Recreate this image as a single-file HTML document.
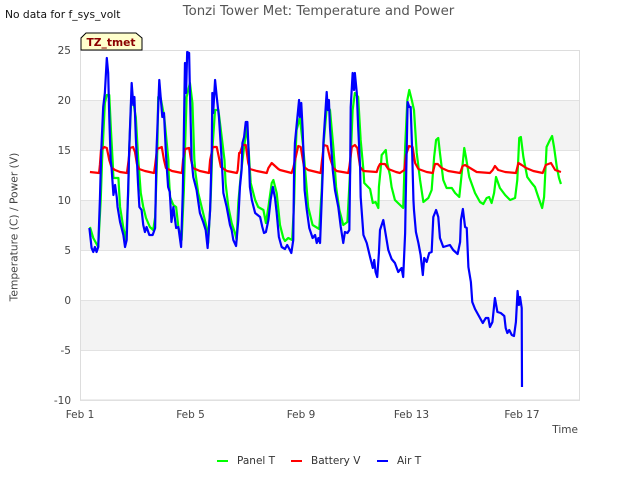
<!DOCTYPE html>
<html lang="en">
<head>
<meta charset="utf-8">
<title>Tonzi Tower Met: Temperature and Power</title>
<style>
html,body{margin:0;padding:0;background:#fff;}
svg{display:block;font-family:"DejaVu Sans","Liberation Sans",sans-serif;}
</style>
</head>
<body>
<svg id="chart" xmlns="http://www.w3.org/2000/svg" width="640" height="480" viewBox="0 0 640 480">
  <rect x="0" y="0" width="640" height="480" fill="#ffffff"/>
  <g id="bands"></g>
  <g id="grid"></g>
  <rect x="80.5" y="50.5" width="499" height="349.5" fill="none" stroke="#dddddd" stroke-width="1"/>
  <g id="yticks"></g>
  <g id="xticks"></g>
  <g id="series"></g>
  <text x="318.5" y="15" text-anchor="middle" font-size="13.3" fill="#555555">Tonzi Tower Met: Temperature and Power</text>
  <text x="5" y="18" font-size="10.7" fill="#111111">No data for f_sys_volt</text>
  <text transform="translate(17.5,227) rotate(-90)" text-anchor="middle" font-size="10.7" fill="#444444">Temperature (C) / Power (V)</text>
  <text x="578" y="433" text-anchor="end" font-size="10.5" fill="#444444">Time</text>
  <g>
    <path d="M81,50 L81,38 L86,33 L136,33 L142,38 L142,50 Z" fill="#ffffcc" stroke="#000000" stroke-width="1"/>
    <text x="111" y="46" text-anchor="middle" font-size="10.7" font-weight="bold" fill="#8b0000">TZ_tmet</text>
  </g>
  <g>
    <g>
      <rect x="217" y="460" width="11" height="2" fill="#00ff00"/>
      <text x="237" y="464" font-size="10.5" fill="#333333">Panel T</text>
    </g>
    <g>
      <rect x="291" y="460" width="11" height="2" fill="#ff0000"/>
      <text x="311" y="464" font-size="10.5" fill="#333333">Battery V</text>
    </g>
    <g>
      <rect x="377" y="460" width="11" height="2" fill="#0000ff"/>
      <text x="397" y="464" font-size="10.5" fill="#333333">Air T</text>
    </g>
  </g>
</svg>
<script>
const yTickValues = [25, 20, 15, 10, 5, 0, -5, -10];
const xTickDays = [0, 4, 8, 12, 16];
const xTickLabels = ["Feb 1", "Feb 5", "Feb 9", "Feb 13", "Feb 17"];
const shadedBands = [[15, 20], [5, 10], [-5, 0]];

const panelDays = [.36,.48,.58,.66,.75,.80,.83,.90,.97,1.06,1.12,1.18,1.21,1.39,1.45,1.57,1.67,1.75,1.78,1.85,1.93,2.02,2.11,2.13,2.20,2.29,2.39,2.53,2.65,2.72,2.80,2.83,2.92,3.05,3.20,3.21,3.26,3.38,3.48,3.56,3.68,3.76,3.80,3.86,3.98,4.07,4.14,4.18,4.28,4.43,4.59,4.64,4.73,4.79,4.89,5.01,5.13,5.23,5.27,5.37,5.49,5.61,5.67,5.73,5.82,5.94,6.04,6.09,6.15,6.18,6.34,6.45,6.64,6.73,6.82,6.94,7.00,7.12,7.24,7.36,7.42,7.54,7.68,7.75,7.78,7.84,7.96,8.08,8.15,8.18,8.26,8.42,8.66,8.75,8.80,8.94,9.05,9.17,9.23,9.27,9.39,9.53,9.68,9.78,9.87,9.95,10.07,10.16,10.26,10.29,10.50,10.60,10.70,10.80,10.82,10.88,10.92,11.07,11.12,11.22,11.28,11.40,11.70,11.77,11.85,11.92,12.01,12.09,12.19,12.31,12.43,12.61,12.73,12.82,12.89,12.97,13.03,13.15,13.27,13.46,13.58,13.73,13.82,13.91,13.97,14.09,14.30,14.48,14.60,14.72,14.81,14.90,14.99,15.06,15.20,15.39,15.57,15.75,15.83,15.90,15.96,16.05,16.19,16.35,16.47,16.59,16.73,16.80,16.89,17.01,17.09,17.16,17.26,17.34,17.41];
const panelValues = [7.3,6.2,5.7,5.3,10,14,15.7,19.7,20.5,20.5,17,14,12.2,12.2,9.3,7.2,6,11,15,19.7,19.8,18.3,14,13.3,10.7,9.3,8.2,7.3,7,8.3,15,20.3,20.2,18.3,14,12.7,10.3,9.5,9.3,7.3,6,11,15,20.3,21.7,19.7,14,12.7,10.7,9,7.2,5.7,10,15,19,19,16.3,14,11.7,9.3,7.7,6.7,6,9.7,12.5,15.3,17.3,15.7,13,11.7,10,9.3,9,7.7,9.3,11.7,12,10.7,7.5,6.2,5.9,6.2,6,9.7,13,17,18.2,15.3,13,12,9.3,7.5,7.1,11,15,19.5,19,15.3,13,11.3,9,7.5,7.8,13,19,20.7,20.3,16,13,11.7,11.1,9.7,9.8,9.2,11.3,13,14.5,15,13.7,12.5,11.3,10,9.2,15.3,20,21,20,19,14.7,12,9.8,10.2,11,14.3,16,16.2,14.7,12,11.2,11.2,10.7,10.3,12.7,15.2,14.3,12.3,10.7,9.8,9.6,10.2,10.3,9.7,10.7,12.3,11.2,10.5,10,10.2,12,16.2,16.3,14.3,12.3,11.7,11.3,10.3,9.2,10.3,15.3,16,16.4,15.3,13.3,12.2,11.6];

const batteryDays = [.36,.69,.72,.76,.88,.97,1.06,1.15,1.27,1.45,1.70,1.76,1.81,1.92,1.99,2.06,2.14,2.35,2.68,2.72,2.79,2.96,3.04,3.11,3.33,3.69,3.73,3.80,3.95,4.02,4.09,4.34,4.67,4.71,4.81,4.95,5.01,5.10,5.32,5.68,5.71,5.76,5.79,5.89,6.00,6.09,6.15,6.40,6.76,6.82,6.94,7.06,7.18,7.24,7.66,7.72,7.81,7.90,7.99,8.11,8.26,8.71,8.75,8.83,8.95,9.05,9.17,9.29,9.71,9.75,9.84,9.95,10.04,10.14,10.26,10.74,10.80,10.86,11.04,11.16,11.44,11.58,11.74,11.80,11.91,12.04,12.13,12.25,12.55,12.77,12.85,12.95,13.09,13.33,13.76,13.85,13.94,14.12,14.36,14.84,14.94,15.02,15.14,15.39,15.78,15.87,15.99,16.15,16.41,16.75,16.86,17.05,17.20,17.41];
const batteryValues = [12.8,12.7,13.5,15,15.3,15.2,14,13.2,13,12.8,12.7,14,15.2,15.3,14.8,13.6,13.1,12.9,12.7,13.5,15.1,15.3,14,13.2,12.9,12.7,14,15.1,15.2,14,13.2,12.9,12.7,14,15.3,15.3,14.5,13.3,12.9,12.7,13,14.7,14.7,15.5,15.5,13.7,13.1,12.9,12.7,13.2,13.7,13.4,13.1,13,12.7,13.2,14.3,15.4,15.3,13.3,13,12.7,13.7,15.5,15.4,14.2,13.2,12.9,12.7,13.3,15.3,15.5,15.2,13.3,12.9,12.8,13.3,13.6,13.6,13.1,12.8,12.7,13,14.5,15.4,15.3,13.7,13.1,12.8,12.7,13.6,13.6,13.2,12.9,12.7,13.4,13.5,13.2,12.8,12.7,13,13.4,13,12.8,12.7,13.7,13.5,13.2,12.9,12.7,13.5,13.7,13,12.8];

const airDays = [.34,.42,.48,.54,.60,.66,.72,.77,.84,.90,.97,1.02,1.06,1.11,1.14,1.18,1.21,1.27,1.33,1.36,1.45,1.57,1.63,1.69,1.75,1.78,1.87,1.93,1.97,2.02,2.06,2.10,2.15,2.23,2.29,2.35,2.41,2.51,2.63,2.72,2.75,2.77,2.87,2.92,2.98,3.04,3.11,3.14,3.19,3.25,3.31,3.38,3.48,3.56,3.66,3.72,3.75,3.78,3.80,3.84,3.88,3.95,3.98,4.04,4.10,4.22,4.34,4.46,4.55,4.62,4.71,4.77,4.79,4.82,4.89,4.95,5.03,5.13,5.19,5.31,5.43,5.49,5.55,5.65,5.73,5.79,5.85,5.88,5.94,6.00,6.06,6.12,6.15,6.22,6.34,6.52,6.60,6.66,6.73,6.82,6.90,6.98,7.06,7.12,7.20,7.30,7.42,7.50,7.58,7.65,7.72,7.75,7.78,7.93,7.96,8.01,8.06,8.11,8.13,8.21,8.30,8.42,8.51,8.57,8.63,8.69,8.75,8.79,8.81,8.93,8.97,9.01,9.05,9.15,9.23,9.35,9.44,9.53,9.59,9.68,9.75,9.78,9.80,9.87,9.92,9.95,10.02,10.07,10.14,10.16,10.26,10.38,10.50,10.60,10.65,10.70,10.76,10.82,10.86,10.98,11.04,11.16,11.28,11.40,11.52,11.64,11.70,11.77,11.79,11.86,11.92,11.97,12.02,12.07,12.09,12.16,12.25,12.33,12.41,12.46,12.55,12.64,12.73,12.79,12.89,12.97,13.03,13.15,13.39,13.51,13.67,13.76,13.79,13.86,13.94,14.00,14.06,14.15,14.20,14.30,14.42,14.58,14.69,14.78,14.84,14.93,15.02,15.11,15.23,15.36,15.41,15.47,15.54,15.63,15.71,15.78,15.84,15.89,15.93,15.99,16.00];
const airValues = [7.2,5.2,4.8,5.3,4.8,5.3,10,15,19.3,20.7,24.2,22.7,18.3,14,13.3,11.7,10.5,11.5,10.3,9.3,7.8,6.5,5.3,6,11.7,15,21.7,19.5,20.3,16.3,14,11.7,9.3,9,7.5,6.8,7.3,6.5,6.5,7.2,11.7,15,22,20.3,18.3,18.7,14.7,13.3,11.3,10.8,7.8,9.3,7.2,7.3,5.3,10.7,15,20.3,23.7,20.7,24.8,24.7,20.8,14,12.3,11,8.7,7.8,7,5.2,9,15,20.7,18.7,22,20.3,18.3,14,10.7,9.3,7.5,7,6,5.4,8,11.3,13,15.7,16.3,17.8,17.8,13.7,11.3,10,8.7,8.3,7.3,6.7,6.8,8,10,11.3,10.2,8.7,6.3,5.3,5.1,5.5,5.1,4.7,6,13,15.7,20,18.3,19.7,17,13,11,9,7.2,6.2,6.5,5.7,6.2,5.7,10,13,15.7,20.8,19,20,17.2,13,11,9.3,7.3,5.7,6.8,6.7,7,13,19.3,22.7,21,22.7,20.7,17.3,13.3,10.3,6.5,5.7,4.3,3.2,4,2.8,2.3,4.7,7,8,7,5,4.1,3.7,2.8,3.2,2.3,6.7,10,19.8,19.3,19.3,15.3,10,9,6.8,5.7,4.5,2.5,4.2,3.8,4.7,4.8,8.3,9,8.3,6.2,5.3,5.5,5,4.6,5.8,8,9.1,7.3,7.2,3.3,1.8,-0.2,-0.9,-1.5,-2.3,-1.8,-1.8,-2.7,-2.2,0.2,-1.2,-1.3,-1.6,-2.8,-3.3,-3,-3.5,-3.6,-2.2,0.9,-0.5,0.3,-0.8,-8.7];

const SVG_NS = 'http://www.w3.org/2000/svg';
const PLOT_LEFT = 80, PLOT_RIGHT = 580, PLOT_TOP = 50, PLOT_BOTTOM = 400;
const DAY_MAX = 18.1, VALUE_MIN = -10, VALUE_MAX = 25;

function xScale(day) {
  return PLOT_LEFT + (day / DAY_MAX) * (PLOT_RIGHT - PLOT_LEFT);
}
function yScale(value) {
  return PLOT_TOP + ((VALUE_MAX - value) / (VALUE_MAX - VALUE_MIN)) * (PLOT_BOTTOM - PLOT_TOP);
}
function make(tag, parentId) {
  const el = document.createElementNS(SVG_NS, tag);
  document.getElementById(parentId).appendChild(el);
  return el;
}

shadedBands.forEach(function (band) {
  const rect = make('rect', 'bands');
  
  
  rect.setAttribute('x', PLOT_LEFT);
  rect.setAttribute('y', yScale(band[1]));
  rect.setAttribute('width', PLOT_RIGHT - PLOT_LEFT);
  rect.setAttribute('height', yScale(band[0]) - yScale(band[1]));
  rect.setAttribute('fill', '#f3f3f3');
});

yTickValues.forEach(function (tick) {
  const line = make('line', 'grid');
  
  
  line.setAttribute('x1', PLOT_LEFT);
  line.setAttribute('x2', PLOT_RIGHT);
  line.setAttribute('y1', yScale(tick) + 0.5);
  line.setAttribute('y2', yScale(tick) + 0.5);
  line.setAttribute('stroke', '#e2e2e2');

  const label = make('text', 'yticks');
  
  
  label.setAttribute('x', 71);
  label.setAttribute('y', yScale(tick) + 4);
  label.setAttribute('text-anchor', 'end');
  label.setAttribute('font-size', '10.5');
  label.setAttribute('fill', '#444444');
  label.textContent = String(tick);
});

xTickDays.forEach(function (day, i) {
  const label = make('text', 'xticks');
  
  
  label.setAttribute('x', xScale(day));
  label.setAttribute('y', 418);
  label.setAttribute('text-anchor', 'middle');
  label.setAttribute('font-size', '10.5');
  label.setAttribute('fill', '#444444');
  label.textContent = xTickLabels[i];
});

function drawSeries(days, values, color, name) {
  let d = '';
  days.forEach(function (day, i) {
    d += (i === 0 ? 'M' : 'L') + xScale(day).toFixed(2) + ',' + yScale(values[i]).toFixed(2);
  });
  const path = make('path', 'series');
  
  
  path.setAttribute('d', d);
  path.setAttribute('fill', 'none');
  path.setAttribute('stroke', color);
  path.setAttribute('stroke-width', '2.2');
  path.setAttribute('stroke-linejoin', 'round');
}

drawSeries(panelDays, panelValues, '#00ff00', 'panel-t-line');
drawSeries(batteryDays, batteryValues, '#ff0000', 'battery-v-line');
drawSeries(airDays, airValues, '#0000ff', 'air-t-line');
</script>
</body>
</html>
